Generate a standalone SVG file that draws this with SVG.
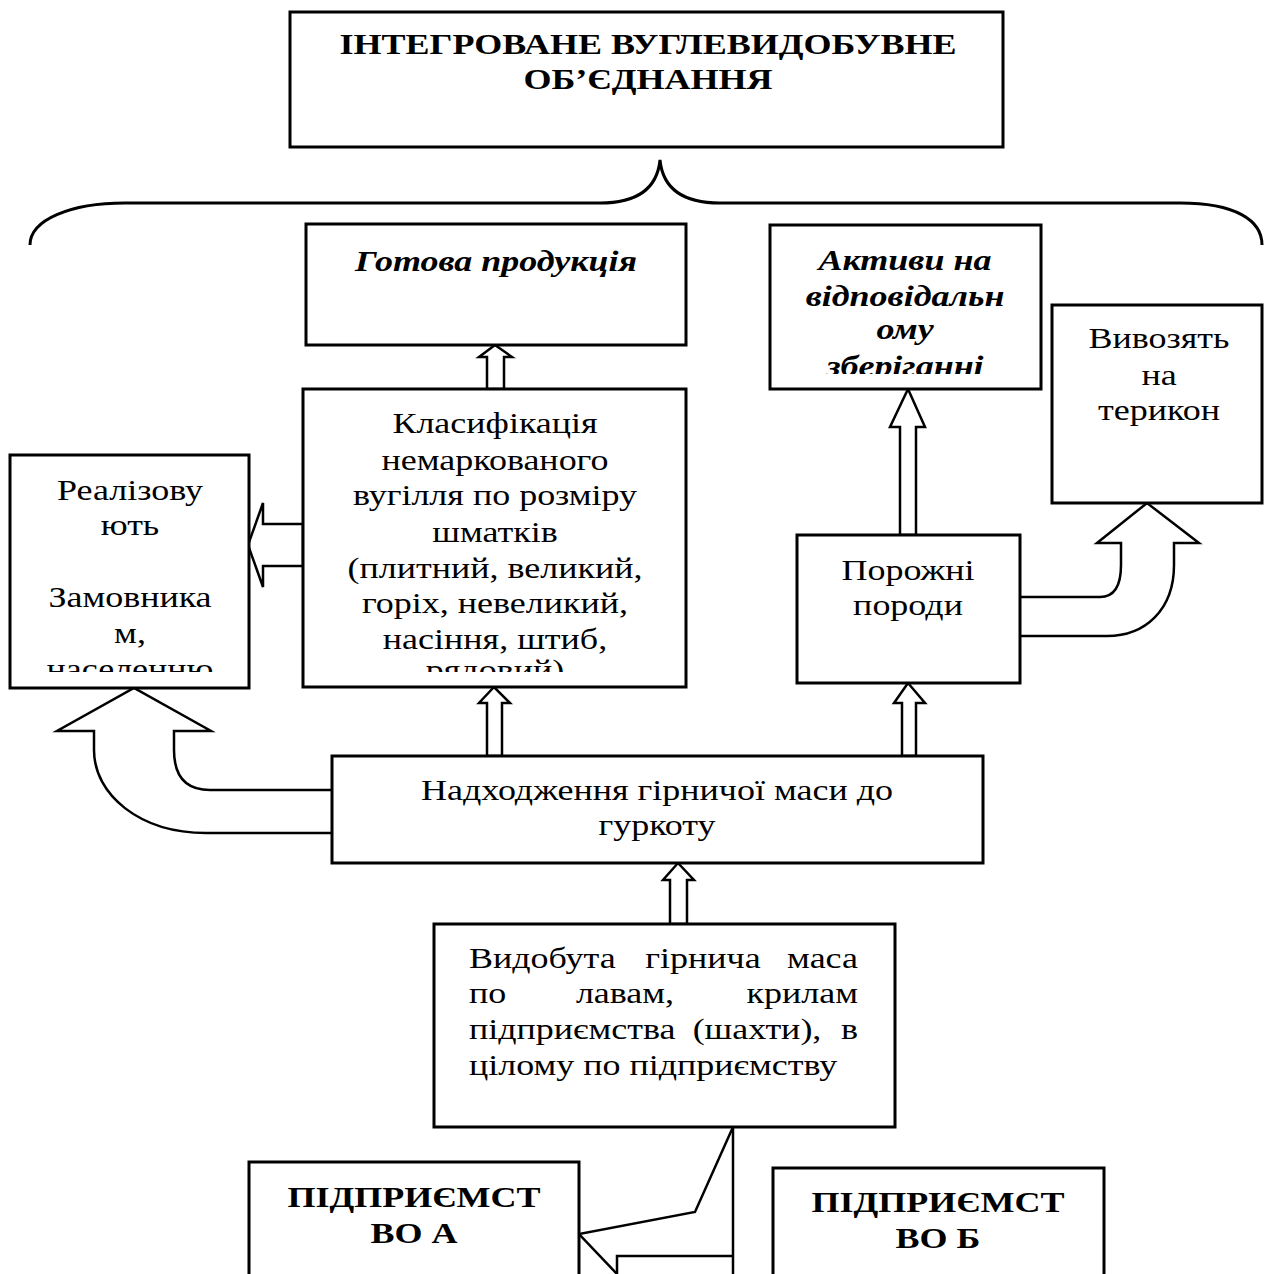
<svg xmlns="http://www.w3.org/2000/svg" width="1265" height="1274" viewBox="0 0 1265 1274">
<defs>
<style>
.box{fill:#fff;stroke:#000;stroke-width:3}
.arr{fill:#fff;stroke:#000;stroke-width:2.5;stroke-linejoin:miter}
.ln{fill:none;stroke:#000;stroke-width:2.5}
.t{font-family:"Liberation Serif","Times New Roman",serif;font-size:30px;fill:#000}
.b{font-weight:bold}
.bi{font-weight:bold;font-style:italic}
.c{text-anchor:middle}
.e{text-anchor:end}
</style>
<clipPath id="clipK"><rect x="305" y="391" width="380" height="281"/></clipPath>
<clipPath id="clipR"><rect x="12" y="457" width="236" height="215"/></clipPath>
<clipPath id="clipA"><rect x="772" y="227" width="268" height="147"/></clipPath>
</defs>
<rect width="1265" height="1274" fill="#fff"/>

<g id="brace">
<path class="ln" style="stroke-width:3" d="M30,245 C30,220 70,203 125,203 L600,203 C635,203 657,190 660,160 C663,190 685,203 720,203 L1180,203 C1235,203 1262,220 1262,245"/>
</g>

<g id="connectors">
<polygon class="arr" points="487,389 487,357 479,357 495,345 512,357 504,357 504,389"/>
<polygon class="arr" points="303,524 263,524 263,503 248,545 263,587 263,566 303,566"/>
<polygon class="arr" points="487,756 487,703 479,703 494,687 510,703 502,703 502,756"/>
<polygon class="arr" points="902,756 902,703 894,703 908,683 925,703 916,703 916,756"/>
<polygon class="arr" points="900,535 900,427 890,427 908,389 925,427 916,427 916,535"/>
<polygon class="arr" points="670,924 670,880 663,880 678,863 694,880 687,880 687,924"/>
<path class="arr" d="M332,790 L210,790 C185,790 174,775 174,750 L174,731 L211,731 L134,688 L57,731 L94,731 L94,750 C94,795 140,833 206,833 L332,833"/>
<path class="arr" d="M1020,597 L1100,597 C1115,597 1121,585 1121,565 L1121,543 L1097,543 L1147,503 L1199,543 L1174,543 L1174,565 C1174,610 1145,636 1107,636 L1020,636"/>
<polyline class="ln" points="733,1127 695,1212 579,1234 617,1274"/>
<line class="ln" x1="733" y1="1127" x2="733" y2="1274"/>
<polyline class="ln" points="617,1274 617,1256 733,1256"/>
</g>

<g id="n-top">
<rect class="box" x="290" y="12" width="713" height="135"/>
<text class="t b c" transform="translate(648 54) scale(1.2 1)">ІНТЕГРОВАНЕ ВУГЛЕВИДОБУВНЕ</text>
<text class="t b c" transform="translate(648 89) scale(1.2 1)">ОБ’ЄДНАННЯ</text>
</g>

<g id="n-gotova">
<rect class="box" x="306" y="224" width="380" height="121"/>
<text class="t bi c" transform="translate(496 271) scale(1.2 1)">Готова продукція</text>
</g>

<g id="n-aktyvy">
<rect class="box" x="770" y="225" width="271" height="164"/>
<g clip-path="url(#clipA)">
<text class="t bi c" transform="translate(905 270) scale(1.2 1)">Активи на</text>
<text class="t bi c" transform="translate(905 306) scale(1.2 1)">відповідальн</text>
<text class="t bi c" transform="translate(905 339) scale(1.2 1)">ому</text>
<text class="t bi c" transform="translate(905 376) scale(1.2 1)">зберіганні</text>
</g>
</g>

<g id="n-vyvoz">
<rect class="box" x="1052" y="305" width="210" height="198"/>
<text class="t c" transform="translate(1159 348) scale(1.2 1)">Вивозять</text>
<text class="t c" transform="translate(1159 385) scale(1.2 1)">на</text>
<text class="t c" transform="translate(1159 420) scale(1.2 1)">терикон</text>
</g>

<g id="n-klas">
<rect class="box" x="303" y="389" width="383" height="298"/>
<g clip-path="url(#clipK)">
<text class="t c" transform="translate(495 433) scale(1.2 1)">Класифікація</text>
<text class="t c" transform="translate(495 470) scale(1.2 1)">немаркованого</text>
<text class="t c" transform="translate(495 505) scale(1.2 1)">вугілля по розміру</text>
<text class="t c" transform="translate(495 542) scale(1.2 1)">шматків</text>
<text class="t c" transform="translate(495 578) scale(1.2 1)">(плитний, великий,</text>
<text class="t c" transform="translate(495 613) scale(1.2 1)">горіх, невеликий,</text>
<text class="t c" transform="translate(495 649) scale(1.2 1)">насіння, штиб,</text>
<text class="t c" transform="translate(495 680) scale(1.2 1)">рядовий)</text>
</g>
</g>

<g id="n-real">
<rect class="box" x="10" y="455" width="239" height="233"/>
<g clip-path="url(#clipR)">
<text class="t c" transform="translate(130 500) scale(1.2 1)">Реалізову</text>
<text class="t c" transform="translate(130 535) scale(1.2 1)">ють</text>
<text class="t c" transform="translate(130 607) scale(1.2 1)">Замовника</text>
<text class="t c" transform="translate(130 643) scale(1.2 1)">м,</text>
<text class="t c" transform="translate(130 679) scale(1.2 1)">населенню</text>
</g>
</g>

<g id="n-poroz">
<rect class="box" x="797" y="535" width="223" height="148"/>
<text class="t c" transform="translate(908 580) scale(1.2 1)">Порожні</text>
<text class="t c" transform="translate(908 615) scale(1.2 1)">породи</text>
</g>

<g id="n-nadh">
<rect class="box" x="332" y="756" width="651" height="107"/>
<text class="t c" transform="translate(657 800) scale(1.2 1)">Надходження гірничої маси до</text>
<text class="t c" transform="translate(657 835) scale(1.2 1)">гуркоту</text>
</g>

<g id="n-vyd">
<rect class="box" x="434" y="924" width="461" height="203"/>
<text class="t" transform="translate(469 968) scale(1.2 1)">Видобута</text>
<text class="t c" transform="translate(703 968) scale(1.2 1)">гірнича</text>
<text class="t e" transform="translate(858 968) scale(1.2 1)">маса</text>
<text class="t" transform="translate(469 1003) scale(1.2 1)">по</text>
<text class="t c" transform="translate(625 1003) scale(1.2 1)">лавам,</text>
<text class="t e" transform="translate(858 1003) scale(1.2 1)">крилам</text>
<text class="t" transform="translate(469 1039) scale(1.2 1)">підприємства</text>
<text class="t c" transform="translate(757 1039) scale(1.2 1)">(шахти),</text>
<text class="t e" transform="translate(858 1039) scale(1.2 1)">в</text>
<text class="t" transform="translate(469 1075) scale(1.2 1)">цілому по підприємству</text>
</g>

<g id="n-a">
<rect class="box" x="249" y="1162" width="330" height="130"/>
<text class="t b c" transform="translate(414 1207) scale(1.2 1)">ПІДПРИЄМСТ</text>
<text class="t b c" transform="translate(414 1243) scale(1.2 1)">ВО А</text>
</g>

<g id="n-b">
<rect class="box" x="773" y="1168" width="331" height="130"/>
<text class="t b c" transform="translate(938 1212) scale(1.2 1)">ПІДПРИЄМСТ</text>
<text class="t b c" transform="translate(938 1248) scale(1.2 1)">ВО Б</text>
</g>
</svg>
